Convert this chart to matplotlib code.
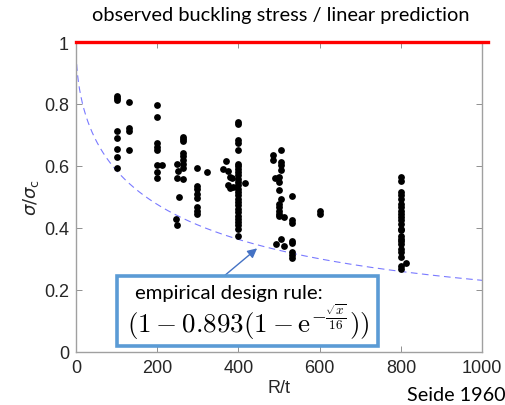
import numpy as np
import matplotlib.pyplot as plt
from matplotlib.patches import Rectangle

# R/t columns and observed sigma/sigma_c
rt_100 = [100] * 8
y_100 = [0.826, 0.82, 0.812, 0.713, 0.69, 0.656, 0.628, 0.594]
rt_130 = [130] * 4
y_130 = [0.805, 0.723, 0.712, 0.65]
rt_200 = [200] * 8 + [211]
y_200 = [0.798, 0.759, 0.674, 0.661, 0.653, 0.604, 0.58, 0.561, 0.604]
rt_250 = [250, 252, 250, 253, 246, 248]
y_250 = [0.607, 0.583, 0.56, 0.5, 0.43, 0.41]
rt_264 = [264] * 9
y_264 = [0.694, 0.686, 0.68, 0.643, 0.632, 0.618, 0.607, 0.594, 0.559]
rt_300 = [297] * 8 + [322]
y_300 = [0.594, 0.535, 0.524, 0.51, 0.497, 0.467, 0.456, 0.446, 0.579]
rt_400 = [400] * 27 + [369, 363, 375, 379, 383, 375, 379, 387, 416]
y_400 = [0.742, 0.736, 0.683, 0.675, 0.653, 0.607, 0.6, 0.591, 0.58, 0.57,
         0.559, 0.548, 0.537, 0.527, 0.516, 0.505, 0.494, 0.483, 0.473, 0.462,
         0.451, 0.44, 0.43, 0.419, 0.408, 0.397, 0.375,
         0.615, 0.591, 0.583, 0.564, 0.561, 0.537, 0.53, 0.532, 0.546]
rt_500 = [504, 486, 486, 504, 504, 504, 490, 500, 500, 499, 504, 531, 499, 499,
          499, 499, 499, 513, 531, 531, 504, 493, 513, 531, 531, 531, 531, 531]
y_500 = [0.65, 0.634, 0.618, 0.613, 0.602, 0.586, 0.562, 0.564, 0.548, 0.521,
         0.494, 0.503, 0.478, 0.467, 0.456, 0.446, 0.44, 0.435, 0.424, 0.417,
         0.365, 0.349, 0.343, 0.359, 0.351, 0.322, 0.313, 0.304]
rt_600 = [600, 600]
y_600 = [0.456, 0.446]
rt_800 = [800] * 23 + [813]
y_800 = [0.564, 0.553, 0.516, 0.505, 0.492, 0.478, 0.467, 0.456, 0.446, 0.435,
         0.424, 0.413, 0.397, 0.392, 0.375, 0.365, 0.359, 0.348, 0.332, 0.322,
         0.305, 0.278, 0.268, 0.287]

rt = rt_100 + rt_130 + rt_200 + rt_250 + rt_264 + rt_300 + rt_400 + rt_500 + rt_600 + rt_800
ratio = y_100 + y_130 + y_200 + y_250 + y_264 + y_300 + y_400 + y_500 + y_600 + y_800

xticks = [0, 200, 400, 600, 800, 1000]
yticks = [0, 0.2, 0.4, 0.6, 0.8, 1]

plt.rcParams['font.family'] = ['Liberation Sans', 'DejaVu Sans']
plt.rcParams['mathtext.fontset'] = 'dejavusans'

fig = plt.figure(figsize=(5.06, 4.06), dpi=100)
ax = fig.add_axes([0.150, 0.131, 0.803, 0.763])

# dense sampling near 0 so the curve starts at 1
xx = 1000 * np.linspace(0, 1, 1500) ** 2
design = 1 - 0.893 * (1 - np.exp(-np.sqrt(xx) / 16))
ax.plot(xx, design, color='#7a7aff', lw=0.8, dashes=(6, 4))
ax.plot([0, 1015], [1, 1], color='#ff0000', lw=2.4, clip_on=False, zorder=5)
ax.scatter(rt, ratio, s=24, color='black', zorder=4, linewidths=0)

ax.set_xlim(0, 1000)
ax.set_ylim(0, 1)
ax.set_xticks(xticks)
ax.set_yticks(yticks)
ax.set_xticklabels([str(v) for v in xticks])
ax.set_yticklabels(['0', '0.2', '0.4', '0.6', '0.8', '1'])
ax.tick_params(direction='in', length=4, width=0.7, color='#909090',
               labelsize=13, labelcolor='#262626', top=True, right=True, pad=5)
for s in ax.spines.values():
    s.set_color('#a0a0a0')
    s.set_linewidth(1.0)

ax.set_xlabel('R/t', fontsize=13, color='#262626', labelpad=2)
ax.set_ylabel(r'$\sigma/\sigma_{\rm c}$', fontsize=13, color='#262626', labelpad=2)

fig.text(0.555, 0.962, 'observed buckling stress / linear prediction',
         ha='center', va='center', fontsize=14.4, family='Lato')
fig.text(1.0, 0.027, 'Seide 1960', ha='right', va='center', fontsize=14.2, family='Lato')

# annotation box with the design rule
fig.add_artist(Rectangle((0.231, 0.145), 0.516, 0.173, transform=fig.transFigure,
                         facecolor='white', edgecolor='#5b9bd5', lw=2.6, zorder=6))
fig.text(0.267, 0.278, 'empirical design rule:', ha='left', va='center',
         fontsize=14.6, family='Lato', zorder=7)
fig.text(0.251, 0.207, r'$(1 - 0.893(1 - \mathrm{e}^{-\frac{\sqrt{x}}{16}}))$',
         ha='left', va='center', fontsize=19.5, math_fontfamily='cm', zorder=7)
ax.annotate('', xy=(446, 0.334), xytext=(365, 0.245),
            arrowprops=dict(arrowstyle='-|>', color='#4472c4', lw=1.0,
                            mutation_scale=14, shrinkA=0, shrinkB=0))

fig.savefig('out.png', dpi=100)
